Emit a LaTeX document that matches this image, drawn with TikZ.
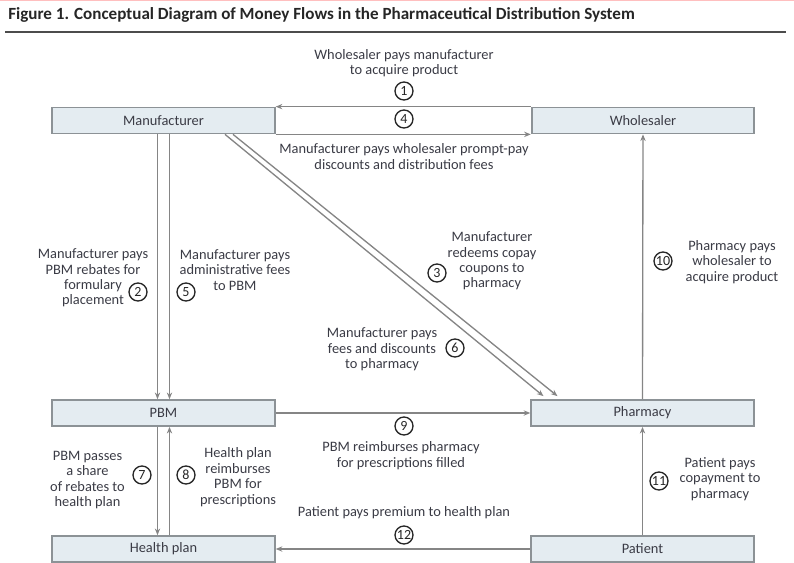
\documentclass[tikz,border=0pt]{standalone}
\usepackage{fontspec}
\setmainfont{Carlito}
\usepackage{tikz}
\usetikzlibrary{positioning,calc,arrows.meta}
\definecolor{boxfill}{HTML}{E4ECF1}
\definecolor{boxline}{HTML}{8C9296}
\definecolor{flowline}{HTML}{858585}
\definecolor{txt}{HTML}{3A3B45}
\tikzset{
	party/.style={draw=boxline,fill=boxfill,line width=1.3pt,minimum width=167pt,minimum height=19.5pt,inner sep=0pt,text=txt,font=\fontsize{10.8}{12}\selectfont},
	flow/.style={draw=flowline,line width=1pt,-{Stealth[length=5pt,width=4pt]}},
	num/.style={circle,draw=black!85,line width=1pt,minimum size=13.5pt,inner sep=0pt,text=black!85,font=\fontsize{10.5}{10.5}\selectfont},
	note/.style={align=center,inner sep=0pt,text=txt,font=\fontsize{10.8}{11.6}\selectfont}
}

\begin{document}
\begin{tikzpicture}[x=0.75pt,y=-0.75pt]
	\useasboundingbox (0,0) rectangle (794,562);
	
	%Titre
	\draw[red!25,line width=1pt] (0,0.5) -- (794,0.5);
	\node[anchor=west,inner sep=0pt,text=black!85,font=\fontsize{12.8}{14}\bfseries] (title) at (8,15) {Figure 1. Conceptual Diagram of Money Flows in the Pharmaceutical Distribution System};
	\draw[black!70,line width=2.2pt] (5,32) -- (786,32);
	
	%Acteurs
	\node[party] (mfr) at (163.5,120.5) {Manufacturer};
	\node[party] (whl) at (643,120.5) {Wholesaler};
	\node[party] (pbm) at (163.5,413) {PBM};
	\node[party] (phm) at (642.5,413) {Pharmacy};
	\node[party] (hp) at (163.5,549) {Health plan};
	\node[party] (pat) at (642.5,549) {Patient};
	
	%Flux
	\draw[flow] (whl.north west) -- (mfr.north east);
	\draw[flow] (mfr.south east) -- (whl.south west);
	\draw[flow] ($(mfr.south)+(-6,0)$) -- ($(pbm.north)+(-6,0)$);
	\draw[flow] ($(mfr.south)+(6,0)$) -- ($(pbm.north)+(6,0)$);
	\draw[flow] ($(mfr.south)+(61.5,0)$) -- ($(phm.north)+(-99,-3)$);
	\draw[flow] ($(mfr.south)+(69.5,0)$) -- ($(phm.north)+(-85,-3)$);
	\draw[flow] (pbm.east) -- (phm.west);
	\draw[flow] (phm.north) -- (whl.south);
	\draw[flow] ($(pbm.south)+(-6,0)$) -- ($(hp.north)+(-6,0)$);
	\draw[flow] ($(hp.north)+(6,0)$) -- ($(pbm.south)+(6,0)$);
	\draw[flow] (pat.north) -- (phm.south);
	\draw[flow] (pat.west) -- (hp.east);
	
	%Numeros
	\node[num] (n1) at (404,91) {1};
	\node[num] (n2) at (138,292) {2};
	\node[num] (n3) at (437,273) {3};
	\node[num] (n4) at (404,119) {4};
	\node[num] (n5) at (186,292) {5};
	\node[num] (n6) at (455,348) {6};
	\node[num] (n7) at (142,475) {7};
	\node[num] (n8) at (186,475) {8};
	\node[num] (n9) at (404,426) {9};
	\node[num] (n10) at (663,261) {10};
	\node[num] (n11) at (659,481) {11};
	\node[num] (n12) at (404,535) {12};
	
	%Textes
	\node[note] (l1) at (404,63) {Wholesaler pays manufacturer\\to acquire product};
	\node[note] (l4) at (404,156.5) {Manufacturer pays wholesaler prompt-pay\\discounts and distribution fees};
	\node[note] (l2) at (93,278) {Manufacturer pays\\PBM rebates for\\formulary\\placement};
	\node[note] (l5) at (235,270) {Manufacturer pays\\administrative fees\\to PBM};
	\node[note] (l3) at (492,261) {Manufacturer\\redeems copay\\coupons to\\pharmacy};
	\node[note] (l6) at (382,349.5) {Manufacturer pays\\fees and discounts\\to pharmacy};
	\node[note] (l10) at (732,262) {Pharmacy pays\\wholesaler to\\acquire product};
	\node[note] (l9) at (401,455.5) {PBM reimburses pharmacy\\for prescriptions filled};
	\node[note] (l7) at (87.5,480) {PBM passes\\a share\\of rebates to\\health plan};
	\node[note] (l8) at (238,477) {Health plan\\reimburses\\PBM for\\prescriptions};
	\node[note] (l11) at (720,479) {Patient pays\\copayment to\\pharmacy};
	\node[note] (l12) at (404,513) {Patient pays premium to health plan};
	
\end{tikzpicture}
\end{document}
